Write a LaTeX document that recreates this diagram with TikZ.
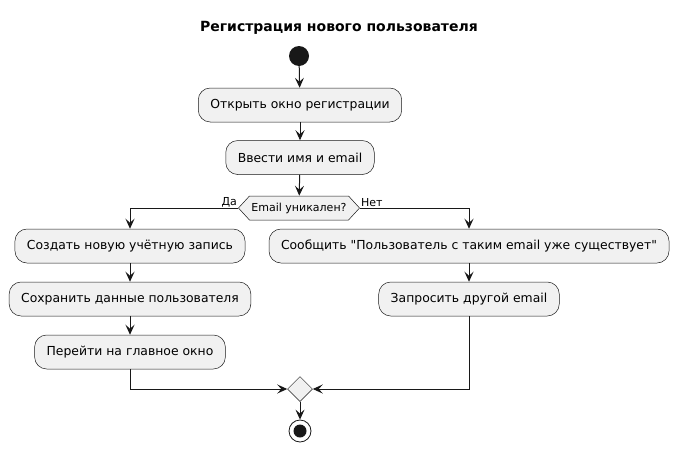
\documentclass[tikz,border=0pt]{standalone}
\usepackage{fontspec}
\setmainfont{DejaVu Sans}[Ligatures=TeXOff]
\usetikzlibrary{arrows.meta}
\usetikzlibrary{shapes.geometric,shapes.symbols}
\definecolor{actfill}{HTML}{F1F1F1}
\definecolor{actline}{HTML}{181818}
\begin{document}
\begin{tikzpicture}[x=1pt,y=-1pt,
    action/.style={draw=actline, line width=.5pt, fill=actfill, rounded corners=12pt,
        minimum height=34pt, inner xsep=12pt, font=\fontsize{12.4}{14}\selectfont},
    flow/.style={draw=actline, line width=1pt, -{Stealth[length=10pt,width=9pt,inset=4pt]}},
    test/.style={signal, signal to=east and west, signal pointer angle=95, draw=actline,
        line width=.5pt, fill=actfill, minimum height=24pt, inner xsep=2pt, inner ysep=0pt,
        font=\fontsize{11}{13}\selectfont},
    branch/.style={font=\fontsize{11}{13}\selectfont, inner sep=1pt}]
    \useasboundingbox (0,0) rectangle (679,453);
    % title
    \node[font=\fontsize{14}{16}\selectfont\bfseries] (title) at (339,28) {Регистрация нового пользователя};
    % start
    \node[circle, fill=actline, minimum size=20pt, inner sep=0pt] (start) at (299,56) {};
    \node[action] (open) at (300,105) {Открыть окно регистрации};
    \node[action] (enter) at (300,157.5) {Ввести имя и email};
    \node[test] (check) at (299,208) {Email уникален?};
    % yes
    \node[action] (create) at (130,246) {Создать новую учётную запись};
    \node[action] (save) at (130,299) {Сохранить данные пользователя};
    \node[action] (goto) at (130,352) {Перейти на главное окно};
    % no
    \node[action] (notify) at (469,246) {Сообщить "Пользователь с таким email уже существует"};
    \node[action] (ask) at (469,299) {Запросить другой email};
    % merge and stop
    \node[diamond, draw=actline, line width=.5pt, fill=actfill, minimum size=25pt, inner sep=0pt] (merge) at (300,389) {};
    \node[circle, draw=actline, line width=.8pt, fill=white, minimum size=22pt, inner sep=0pt] (stop) at (300,431) {};
    \fill[actline] (stop.center) circle (6.5pt);

    \draw[flow] (start) -- (open);
    \draw[flow] (open) -- (enter);
    \draw[flow] (enter) -- (check);
    \draw[flow] (check.west) -| (create);
    \draw[flow] (check.east) -| (notify);
    \node[branch, anchor=south east] (yes) at (check.west) {Да};
    \node[branch, anchor=south west] (no) at (check.east) {Нет};
    \draw[flow] (create) -- (save);
    \draw[flow] (save) -- (goto);
    \draw[flow] (notify) -- (ask);
    \draw[flow] (goto.south) |- (merge.west);
    \draw[flow] (ask.south) |- (merge.east);
    \draw[flow] (merge) -- (stop);
\end{tikzpicture}
\end{document}
